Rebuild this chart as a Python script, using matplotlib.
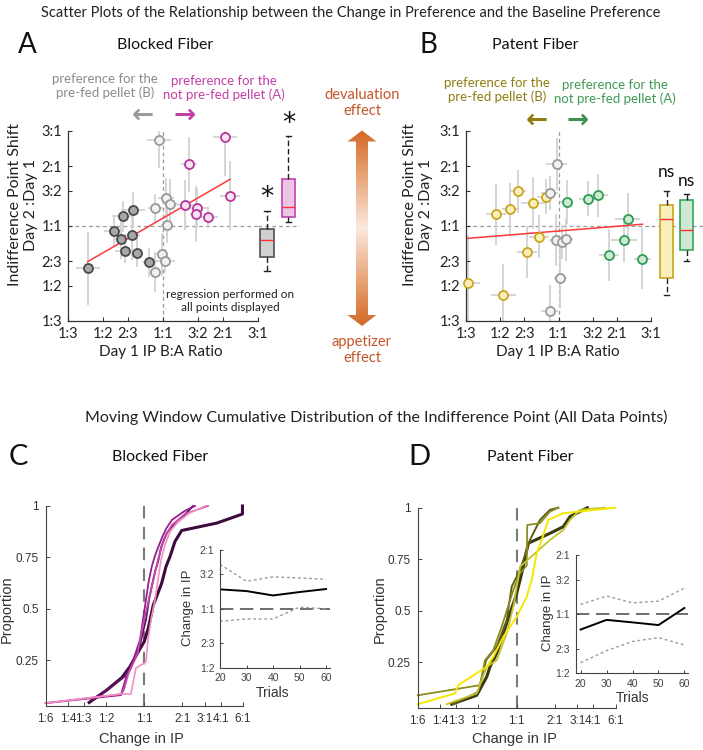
import numpy as np
import matplotlib.pyplot as plt
from matplotlib.colors import LinearSegmentedColormap
from matplotlib.patches import Polygon
from matplotlib.ticker import NullLocator

plt.rcParams['font.family'] = ['Lato', 'DejaVu Sans']

W, H = 703, 750

# ---------------- data ----------------
# scatter ticks (B:A ratios)
ratio_vals = [1/3, 1/2, 2/3, 1, 3/2, 2, 3]
ratio_labels = ['1:3', '1:2', '2:3', '1:1', '3:2', '2:1', '3:1']

# panel A, blocked fiber: x = day 1 IP B:A ratio, y = day2:day1 shift, errors in log units
a_dark_x = [0.42, 0.57, 0.62, 0.70, 0.63, 0.71, 0.65, 0.745, 0.857]
a_dark_y = [0.613, 0.94, 0.863, 0.90, 1.126, 1.20, 0.75, 0.735, 0.657]
a_dark_xe = [0.14, 0.12, 0.09, 0.09, 0.12, 0.14, 0.12, 0.07, 0.09]
a_dark_ye = [0.42, 0.17, 0.23, 0.29, 0.17, 0.21, 0.14, 0.17, 0.17]
a_light_x = [0.96, 0.918, 1.04, 1.092, 1.055, 0.995, 1.027, 0.912]
a_light_y = [2.70, 1.227, 1.387, 1.29, 1.008, 0.72, 0.67, 0.59]
a_light_xe = [0.14, 0.09, 0.09, 0.09, 0.07, 0.07, 0.12, 0.07]
a_light_ye = [0.32, 0.17, 0.23, 0.29, 0.21, 0.25, 0.14, 0.23]
a_mag_x = [2.055, 1.355, 1.294, 1.49, 1.475, 1.689, 2.18]
a_mag_y = [2.81, 2.04, 1.275, 1.227, 1.149, 1.106, 1.42]
a_mag_xe = [0.14, 0.09, 0.09, 0.12, 0.07, 0.12, 0.12]
a_mag_ye = [0.46, 0.32, 0.29, 0.23, 0.32, 0.12, 0.40]

# panel B, patent fiber
b_yel_x = [0.34, 0.478, 0.564, 0.615, 0.742, 0.858, 0.79, 0.689, 0.52]
b_yel_y = [0.517, 1.145, 1.223, 1.493, 1.30, 1.405, 0.885, 0.74, 0.452]
b_yel_xe = [0.15, 0.12, 0.10, 0.10, 0.15, 0.10, 0.12, 0.12, 0.15]
b_yel_ye = [0.55, 0.35, 0.30, 0.25, 0.30, 0.20, 0.25, 0.30, 0.35]
b_gray_x = [0.977, 0.90, 0.965, 1.04, 1.095, 1.024, 0.903]
b_gray_y = [2.04, 1.465, 0.847, 0.831, 0.857, 0.551, 0.374]
b_gray_xe = [0.12, 0.10, 0.08, 0.08, 0.08, 0.08, 0.10]
b_gray_ye = [0.30, 0.20, 0.30, 0.20, 0.25, 0.35, 0.30]
b_grn_x = [1.103, 1.418, 1.60, 2.27, 2.18, 1.816, 2.71]
b_grn_y = [1.32, 1.373, 1.426, 1.08, 0.85, 0.713, 0.686]
b_grn_xe = [0.08, 0.10, 0.12, 0.15, 0.15, 0.12, 0.10]
b_grn_ye = [0.25, 0.20, 0.25, 0.30, 0.25, 0.30, 0.35]

# box summaries of the y shift
a_box_gray = dict(whislo=0.594, q1=0.70, med=0.85, q3=0.966, whishi=1.19)
a_box_pink = dict(whislo=1.05, q1=1.11, med=1.245, q3=1.72, whishi=2.83)
b_box_yel = dict(whislo=0.452, q1=0.546, med=1.09, q3=1.28, whishi=1.50)
b_box_grn = dict(whislo=0.67, q1=0.755, med=0.95, q3=1.357, whishi=1.44)

# cumulative distributions (change in IP ratio, proportion)
cdf_ticks = [1/6, 1/4, 1/3, 1/2, 1, 2, 3, 4, 6]
cdf_labels = ['1:6', '1:4', '1:3', '1:2', '1:1', '2:1', '3:1', '4:1', '6:1']
c1_r = [0.368, 0.505, 0.663, 0.771, 0.897, 1.0, 1.076, 1.178, 1.266, 1.372, 1.484, 1.595, 1.747, 1.974, 3.73, 5.94, 5.94]
c1_p = [0.045, 0.105, 0.165, 0.219, 0.292, 0.341, 0.406, 0.519, 0.568, 0.625, 0.706, 0.754, 0.828, 0.881, 0.917, 0.961, 1.0]
c2_r = [0.386, 0.536, 0.704, 0.829, 0.925, 0.977, 1.031, 1.089, 1.130, 1.215, 1.283, 1.355, 1.430, 1.511, 1.625, 1.914, 2.424]
c2_p = [0.057, 0.115, 0.173, 0.251, 0.324, 0.388, 0.446, 0.544, 0.592, 0.680, 0.729, 0.797, 0.836, 0.870, 0.894, 0.933, 1.0]
c3_r = [0.167, 0.655, 0.717, 0.785, 0.845, 0.925, 0.977, 1.031, 1.089, 1.150, 1.215, 1.283, 1.380, 1.484, 1.655, 2.096, 2.514]
c3_p = [0.042, 0.081, 0.164, 0.212, 0.276, 0.349, 0.446, 0.544, 0.641, 0.709, 0.758, 0.797, 0.846, 0.889, 0.933, 0.977, 1.0]
c4_r = [0.167, 0.655, 0.691, 0.757, 0.829, 0.892, 0.959, 1.031, 1.109, 1.193, 1.283, 1.380, 1.484, 1.655, 2.096, 3.184]
c4_p = [0.042, 0.086, 0.105, 0.193, 0.242, 0.290, 0.397, 0.486, 0.568, 0.656, 0.738, 0.807, 0.860, 0.909, 0.962, 1.0]
c5_r = [0.167, 0.655, 0.785, 0.860, 1.031, 1.070, 1.130, 1.215, 1.283, 1.355, 1.457, 1.595, 1.845, 2.295, 3.015]
c5_p = [0.042, 0.086, 0.086, 0.212, 0.242, 0.349, 0.446, 0.544, 0.641, 0.738, 0.811, 0.875, 0.924, 0.967, 1.0]

d1_r = [0.308, 0.485, 0.581, 0.617, 0.696, 0.784, 0.886, 1.0, 1.095, 1.234, 1.827, 2.324, 2.625, 3.59]
d1_p = [0.048, 0.091, 0.18, 0.229, 0.294, 0.391, 0.488, 0.585, 0.682, 0.828, 0.876, 0.908, 0.957, 1.0]
d2_r = [0.317, 0.499, 0.574, 0.696, 0.834, 0.913, 1.062, 1.272, 1.525, 1.827, 2.123]
d2_p = [0.048, 0.107, 0.261, 0.326, 0.455, 0.617, 0.698, 0.844, 0.941, 0.99, 1.0]
d3_r = [0.167, 0.515, 0.563, 0.655, 0.762, 0.94, 1.062, 1.198, 1.21, 1.525, 1.827, 2.123]
d3_p = [0.091, 0.14, 0.261, 0.31, 0.423, 0.601, 0.682, 0.72, 0.916, 0.925, 0.981, 1.0]
d4_r = [0.282, 0.485, 0.581, 0.696, 0.834, 0.94, 1.062, 1.827, 2.324, 2.625, 3.145, 4.94]
d4_p = [0.048, 0.1, 0.229, 0.261, 0.391, 0.52, 0.714, 0.844, 0.892, 0.941, 0.99, 1.0]
d5_r = [0.167, 0.327, 0.347, 0.581, 0.655, 0.784, 1.0, 1.198, 1.312, 1.436, 1.572, 1.772, 2.324, 5.93]
d5_p = [0.048, 0.1, 0.14, 0.229, 0.277, 0.374, 0.471, 0.568, 0.65, 0.779, 0.844, 0.941, 0.973, 1.0]

# moving window insets
trials = [20, 30, 40, 50, 60]
c_mean = [1.258, 1.233, 1.171, 1.219, 1.263]
c_hi = [1.689, 1.384, 1.457, 1.439, 1.417]
c_lo = [0.863, 0.888, 0.888, 1.02, 1.0]
d_mean = [0.835, 0.935, 0.908, 0.88, 1.075]
d_hi = [1.12, 1.237, 1.141, 1.165, 1.357]
d_lo = [0.566, 0.652, 0.726, 0.759, 0.697]
inset_vals = [0.5, 2/3, 1, 3/2, 2]
inset_labels = ['1:2', '2:3', '1:1', '3:2', '2:1']


# ---------------- helpers ----------------
def px_rect(l, t, r, b):
    return [l / W, 1 - b / H, (r - l) / W, (b - t) / H]


def ftext(px, py, s, **kw):
    kw.setdefault('ha', 'center')
    kw.setdefault('va', 'center')
    return fig.text(px / W, 1 - py / H, s, **kw)


def scatter_panel(ax, groups):
    allx, ally = [], []
    for x, y, xe, ye, edge, face in groups:
        x, y, xe, ye = map(np.asarray, (x, y, xe, ye))
        xerr = [x - x * np.exp(-xe), x * np.exp(xe) - x]
        yerr = [y - y * np.exp(-ye), y * np.exp(ye) - y]
        ax.errorbar(x, y, xerr=xerr, yerr=yerr, fmt='none', ecolor='#d2d2d2',
                    elinewidth=1.3, capsize=0, zorder=1)
        ax.plot(x, y, 'o', ms=6.5, mfc=face, mec=edge, mew=1.3, zorder=4, clip_on=False)
        allx.extend(x)
        ally.extend(y)
    allx, ally = np.array(allx), np.array(ally)
    coef = np.polyfit(np.log(allx), np.log(ally), 1)
    xs = np.array([allx.min(), allx.max()])
    ax.plot(xs, np.exp(np.polyval(coef, np.log(xs))), color='#ff3838', lw=1.1, zorder=3)
    ax.axhline(1, color='#9a9a9a', lw=0.9, ls=(0, (3, 2.5)), zorder=0)
    ax.axvline(1, color='#9a9a9a', lw=0.9, ls=(0, (3, 2.5)), zorder=0)
    ax.set_xscale('log')
    ax.set_yscale('log')
    ax.set_xlim(1/3, 3)
    ax.set_ylim(1/3, 3)
    ax.set_xticks(ratio_vals, ratio_labels)
    ax.set_yticks(ratio_vals, ratio_labels)
    ax.xaxis.set_minor_locator(NullLocator())
    ax.yaxis.set_minor_locator(NullLocator())
    ax.tick_params(direction='in', length=3, width=0.8, color='#333', labelsize=10.5,
                   labelcolor='#222', pad=4)
    for s in ('top', 'right'):
        ax.spines[s].set_visible(False)
    for s in ('left', 'bottom'):
        ax.spines[s].set_color('#333')
        ax.spines[s].set_linewidth(0.9)
    ax.set_facecolor('none')


def box_panel(bax, stats, positions, width, faces, edges, marks, offsets):
    for st, pos, fc, ec, mk, off in zip(stats, positions, faces, edges, marks, offsets):
        bax.bxp([st], positions=[pos], widths=width, patch_artist=True, showfliers=False,
                capwidths=width * 0.4,
                boxprops=dict(facecolor=fc, edgecolor=ec, linewidth=1.2),
                medianprops=dict(color='#ff3030', linewidth=1.0),
                whiskerprops=dict(color='#222', linewidth=1.0, linestyle=(0, (4, 2))),
                capprops=dict(color='#222', linewidth=1.0))
        bax.annotate(mk, (pos, st['whishi']), xytext=(0, off), textcoords='offset points',
                     ha='center', va='bottom', fontsize=19 if mk == '*' else 12.5,
                     family=['DejaVu Sans'] if mk == '*' else ['Lato'], color='#111')
    bax.axhline(1, color='#9a9a9a', lw=0.9, ls=(0, (3, 2.5)), zorder=0)
    bax.set_xlim(0, 1)
    bax.axis('off')


def cdf_panel(ax, curves, colors, widths):
    ax.axvline(1, color='#7a7a7a', lw=1.5, ls=(0, (6, 4)), zorder=0)
    for (r, p), c, lw in zip(curves, colors, widths):
        ax.plot(r, p, color=c, lw=lw, clip_on=False)
    ax.set_xscale('log')
    ax.set_xlim(1/6, 6)
    ax.set_ylim(0.028, 1)
    ax.set_xticks(cdf_ticks, cdf_labels, family=['Liberation Sans'])
    ax.set_yticks([0.25, 0.5, 0.75, 1], ['0.25', '0.5', '0.75', '1'], family=['Liberation Sans'])
    ax.xaxis.set_minor_locator(NullLocator())
    ax.tick_params(direction='in', length=3, width=0.7, color='#444', labelsize=8.5,
                   labelcolor='#333', pad=5)
    for s in ('top', 'right'):
        ax.spines[s].set_visible(False)
    for s in ('left', 'bottom'):
        ax.spines[s].set_color('#444')
        ax.spines[s].set_linewidth(0.8)
    ax.set_facecolor('none')


def inset_panel(ax, mean, hi, lo, xlo):
    ax.axhline(1, color='#555', lw=1.2, ls=(0, (8, 4)), zorder=1)
    ax.plot(trials, hi, color='#9a9a9a', lw=1.0, ls=(0, (2, 2)))
    ax.plot(trials, lo, color='#9a9a9a', lw=1.0, ls=(0, (2, 2)))
    ax.plot(trials, mean, color='black', lw=1.4)
    ax.set_yscale('log')
    ax.set_ylim(0.5, 2)
    ax.set_xlim(xlo, 61.5)
    ax.set_yticks(inset_vals, inset_labels, family=['Liberation Sans'])
    ax.set_xticks(trials, [str(t) for t in trials], family=['Liberation Sans'])
    ax.yaxis.set_minor_locator(NullLocator())
    ax.tick_params(direction='in', length=2.5, width=0.7, color='#444', labelsize=7.5,
                   labelcolor='#444', pad=4)
    for s in ('top', 'right'):
        ax.spines[s].set_visible(False)
    for s in ('left', 'bottom'):
        ax.spines[s].set_color('#444')
        ax.spines[s].set_linewidth(0.8)
    ax.set_facecolor('none')


fig = plt.figure(figsize=(W / 100, H / 100), dpi=100)

# ---------------- top row ----------------
ax_a = fig.add_axes(px_rect(67.7, 131, 257.7, 321))
scatter_panel(ax_a, [
    (a_dark_x, a_dark_y, a_dark_xe, a_dark_ye, '#4a4a4a', '#a8a8a8'),
    (a_light_x, a_light_y, a_light_xe, a_light_ye, '#9a9a9a', '#f2f2f2'),
    (a_mag_x, a_mag_y, a_mag_xe, a_mag_ye, '#b8379f', '#f6e4f1'),
])
bx_a = fig.add_axes(px_rect(257.7, 131, 300, 321), sharey=ax_a)
box_panel(bx_a, [a_box_gray, a_box_pink], [0.22, 0.728], 0.31,
          ['#d0d0d0', '#ebc6e4'], ['#505050', '#c043b0'], ['*', '*'], [0, -1])

ax_b = fig.add_axes(px_rect(466, 131, 651, 321))
scatter_panel(ax_b, [
    (b_yel_x, b_yel_y, b_yel_xe, b_yel_ye, '#c9a61c', '#faf0bd'),
    (b_gray_x, b_gray_y, b_gray_xe, b_gray_ye, '#9a9a9a', '#f2f2f2'),
    (b_grn_x, b_grn_y, b_grn_xe, b_grn_ye, '#2f9e55', '#cdebd4'),
])
bx_b = fig.add_axes(px_rect(651, 131, 703, 321), sharey=ax_a)
box_panel(bx_b, [b_box_yel, b_box_grn], [0.30, 0.687], 0.256,
          ['#f9efbd', '#cfe8d4'], ['#c9a61c', '#35a55a'], ['ns', 'ns'], [8, 4])

# titles and annotations
ftext(351, 13, 'Scatter Plots of the Relationship between the Change in Preference and the Baseline Preference',
      fontsize=10.5, color='#222')
ftext(27, 45, 'A', fontsize=20, color='#111')
ftext(165, 45, 'Blocked Fiber', fontsize=11.5, color='#111')
ftext(428, 45, 'B', fontsize=20, color='#111')
ftext(535, 45, 'Patent Fiber', fontsize=11.5, color='#111')

for x0, t in ((23, 'Indifference Point Shift\nDay 2 :Day 1'), (418, 'Indifference Point Shift\nDay 2 :Day 1')):
    ftext(x0, 205, t, rotation=90, fontsize=11.5, color='#222', linespacing=1.25)
ftext(161, 352, 'Day 1 IP B:A Ratio', fontsize=11, color='#222')
ftext(558, 352, 'Day 1 IP B:A Ratio', fontsize=11, color='#222')

ftext(105, 86, 'preference for the\npre-fed pellet (B)', fontsize=9.5, color='#8c8c8c', linespacing=1.15)
ftext(224, 88, 'preference for the\nnot pre-fed pellet (A)', fontsize=9.5, color='#c23fa6', linespacing=1.15)
ftext(497, 90, 'preference for the\npre-fed pellet (B)', fontsize=9.5, color='#8f7d12', linespacing=1.15)
ftext(615, 92, 'preference for the\nnot pre-fed pellet (A)', fontsize=9.5, color='#3f9a56', linespacing=1.15)
ftext(143, 116, '\u2190', fontsize=19, weight='bold', family=['DejaVu Sans'], color='#9a9a9a')
ftext(185, 116, '\u2192', fontsize=19, weight='bold', family=['DejaVu Sans'], color='#c23fa6')
ftext(537, 121, '\u2190', fontsize=19, weight='bold', family=['DejaVu Sans'], color='#8f7d12')
ftext(578, 121, '\u2192', fontsize=19, weight='bold', family=['DejaVu Sans'], color='#3f8f50')
ftext(230, 301, 'regression performed on\nall points displayed', fontsize=8.5, color='#222', linespacing=1.2)

ftext(362, 103, 'devaluation\neffect', fontsize=10.5, color='#c4562a', linespacing=1.2)
ftext(362, 350, 'appetizer\neffect', fontsize=10.5, color='#c4562a', linespacing=1.2)

# gradient double arrow
ov = fig.add_axes([0, 0, 1, 1])
ov.axis('off')
arrow_pts = [(356, 141.5), (347.5, 141.5), (362, 130.5), (376.5, 141.5), (368, 141.5),
             (368, 315), (376.5, 315), (362, 326), (347.5, 315), (356, 315)]
shape = Polygon(arrow_pts, closed=True, transform=ov.transData, facecolor='none', edgecolor='none')
ov.add_patch(shape)
cmap = LinearSegmentedColormap.from_list('dev', ['#fae9df', '#e9a77c', '#d36a27'])
grad = np.abs(np.linspace(-1, 1, 300))[:, None]
im = ov.imshow(grad, cmap=cmap, extent=(347, 377, 326, 130), aspect='auto', interpolation='bilinear')
im.set_clip_path(shape)
ov.set_xlim(0, W)
ov.set_ylim(H, 0)

# ---------------- bottom row ----------------
ftext(376, 417, 'Moving Window Cumulative Distribution of the Indifference Point (All Data Points)',
      fontsize=11.5, color='#222')
ftext(18, 457, 'C', fontsize=21, color='#111')
ftext(160, 457, 'Blocked Fiber', fontsize=11.5, color='#111')
ftext(419, 457, 'D', fontsize=21, color='#111')
ftext(530, 457, 'Patent Fiber', fontsize=11.5, color='#111')

ax_c = fig.add_axes(px_rect(45.5, 506, 243, 706))
cdf_panel(ax_c, [(c1_r, c1_p), (c2_r, c2_p), (c3_r, c3_p), (c4_r, c4_p), (c5_r, c5_p)],
          ['#3d0b3d', '#621266', '#93208f', '#c94aa8', '#f28ec4'], [2.2, 1.4, 1.3, 1.2, 1.2])
ax_d = fig.add_axes(px_rect(417.7, 507.7, 615.7, 708.3))
cdf_panel(ax_d, [(d1_r, d1_p), (d2_r, d2_p), (d3_r, d3_p), (d4_r, d4_p), (d5_r, d5_p)],
          ['#3a3a0e', '#5e5e16', '#8c8c22', '#c2c22e', '#f5e800'], [2.2, 1.4, 1.3, 1.3, 1.4])

for x0 in (7, 380):
    ftext(x0, 609, 'Proportion', rotation=90, fontsize=10.5, color='#333', family=['Liberation Sans'])
for x0 in (141, 514):
    ftext(x0, 739, 'Change in IP', fontsize=10.5, color='#333', family=['Liberation Sans'])

in_c = fig.add_axes(px_rect(220, 550, 330, 667.7))
inset_panel(in_c, c_mean, c_hi, c_lo, 20)
in_d = fig.add_axes(px_rect(575.7, 555, 688.3, 673.3))
inset_panel(in_d, d_mean, d_hi, d_lo, 18.1)
ftext(188, 608, 'Change in IP', rotation=90, fontsize=9.5, color='#333', family=['Liberation Sans'])
ftext(273, 693, 'Trials', fontsize=10, color='#333', family=['Liberation Sans'])
ftext(548, 613, 'Change in IP', rotation=90, fontsize=9.5, color='#333', family=['Liberation Sans'])
ftext(633, 698, 'Trials', fontsize=10, color='#333', family=['Liberation Sans'])

fig.savefig('out.png', dpi=100, facecolor='white')
